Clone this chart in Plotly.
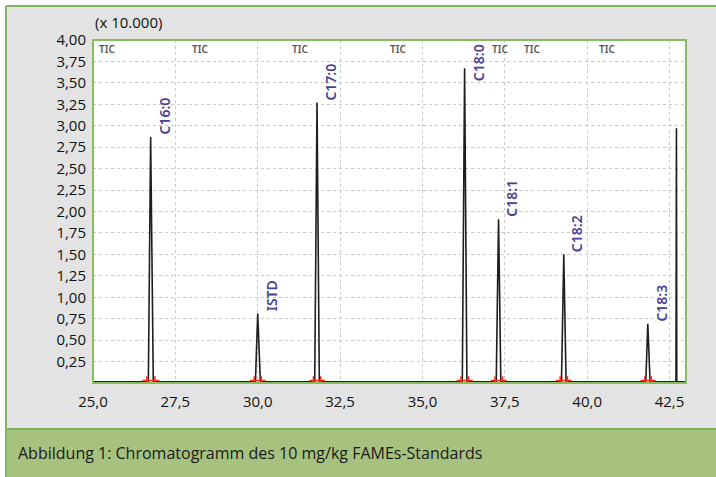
import plotly.graph_objects as go

# ---------------- data ----------------
peak_names = ["C16:0", "ISTD", "C17:0", "C18:0", "C18:1", "C18:2", "C18:3", ""]
peak_rt = [26.75, 30.00, 31.80, 36.28, 37.31, 39.29, 41.84, 42.71]
peak_height = [2.87, 0.81, 3.27, 3.67, 1.91, 1.50, 0.69, 2.97]
# foot of each peak (where the signal leaves / returns to the baseline)
peak_foot_left = [26.68, 29.93, 31.73, 36.21, 37.24, 39.22, 41.78, 42.695]
peak_foot_right = [26.83, 30.08, 31.87, 36.35, 37.38, 39.36, 41.91, 42.72]
# integration marks (red) at start / end of each integrated peak
int_start = [26.63, 29.89, 31.69, 36.17, 37.20, 39.18, 41.75, None]
int_end = [26.88, 30.11, 31.91, 36.40, 37.43, 39.40, 41.95, None]
baseline_level = 0.015
run_start, run_end = 25.0, 43.0

tic_positions = [25.12, 27.94, 30.98, 33.96, 37.05, 38.02, 40.30]
x_ticks = [25.0, 27.5, 30.0, 32.5, 35.0, 37.5, 40.0, 42.5]
y_ticks = [0.25, 0.50, 0.75, 1.00, 1.25, 1.50, 1.75, 2.00, 2.25, 2.50,
           2.75, 3.00, 3.25, 3.50, 3.75, 4.00]
caption = "Abbildung 1: Chromatogramm des 10 mg/kg FAMEs-Standards"
scale_note = "(x 10.000)"

# ---------------- layout constants (pixels) ----------------
W, H = 716, 477
L, R, T, B = 93, 686, 40, 383


def px(x):
    return (x - L) / (R - L)


def py(y):
    return (B - y) / (B - T)


# build the trace from the peak table
tx, ty = [run_start], [baseline_level]
for s, rt, h, e in zip(peak_foot_left, peak_rt, peak_height, peak_foot_right):
    tx += [s, rt, e]
    ty += [baseline_level, h, baseline_level]
tx.append(run_end)
ty.append(baseline_level)

fig = go.Figure()
fig.add_trace(go.Scatter(x=tx, y=ty, mode="lines",
                         line=dict(color="#1e1e1e", width=1.6),
                         hoverinfo="skip", showlegend=False))

mx, my = [], []
for s, e in zip(int_start, int_end):
    if s is not None:
        mx += [s, e]
        my += [0.03, 0.03]
fig.add_trace(go.Scatter(x=mx, y=my, mode="markers",
                         marker=dict(symbol="cross-thin", size=6, color="#ff2a1a",
                                     line=dict(color="#ff2a1a", width=1.5)),
                         hoverinfo="skip", showlegend=False))

label_font = dict(family="Noto Sans", size=14, color="#4b3f93", weight=600)
annotations = []
for name, rt, h in zip(peak_names, peak_rt, peak_height):
    if not name:
        continue
    if h > 3.5:
        annotations.append(dict(x=rt, y=3.97, xref="x", yref="y", text=name,
                                textangle=-90, showarrow=False, xanchor="left",
                                yanchor="top", xshift=2, font=label_font))
    else:
        annotations.append(dict(x=rt, y=h, xref="x", yref="y", text=name,
                                textangle=-90, showarrow=False, xanchor="left",
                                yanchor="bottom", xshift=2, font=label_font))

for tp in tic_positions:
    annotations.append(dict(x=tp, y=4.0, xref="x", yref="y", text="TIC",
                            showarrow=False, xanchor="left", yanchor="top", yshift=0,
                            font=dict(family="Noto Sans", size=10, color="#555555",
                                      weight=600)))

annotations.append(dict(x=px(93), y=py(22), xref="paper", yref="paper", text=scale_note,
                        showarrow=False, xanchor="left", yanchor="middle",
                        font=dict(family="Open Sans", size=15, color="#111111")))
annotations.append(dict(x=px(16), y=py(453), xref="paper", yref="paper", text=caption,
                        showarrow=False, xanchor="left", yanchor="middle",
                        font=dict(family="Open Sans", size=16, color="#1a1a1a")))

shapes = [
    # white margin outside the outer frame
    dict(type="rect", xref="paper", yref="paper", x0=px(0), x1=px(W), y0=py(0), y1=py(5),
         fillcolor="white", line=dict(width=0), layer="below"),
    dict(type="rect", xref="paper", yref="paper", x0=px(0), x1=px(5), y0=py(0), y1=py(H),
         fillcolor="white", line=dict(width=0), layer="below"),
    # caption band
    dict(type="rect", xref="paper", yref="paper", x0=px(6), x1=px(W), y0=py(429), y1=py(H),
         fillcolor="#a7c17f", line=dict(width=0), layer="below"),
    dict(type="line", xref="paper", yref="paper", x0=px(6), x1=px(W), y0=py(429), y1=py(429),
         line=dict(color="#7fb05a", width=2), layer="below"),
    # outer frame lines
    dict(type="line", xref="paper", yref="paper", x0=px(6), x1=px(W), y0=py(6), y1=py(6),
         line=dict(color="#7fb860", width=2), layer="below"),
    dict(type="line", xref="paper", yref="paper", x0=px(6), x1=px(6), y0=py(6), y1=py(H),
         line=dict(color="#7fb860", width=2), layer="below"),
    # plot frame
    dict(type="rect", xref="paper", yref="paper", x0=0, x1=1, y0=0, y1=1,
         line=dict(color="#86bd5f", width=2), layer="above"),
]

fig.update_layout(
    width=W, height=H,
    margin=dict(l=L, r=W - R, t=T, b=H - B, pad=0),
    paper_bgcolor="#e3e3e3",
    plot_bgcolor="white",
    separators=",.",
    showlegend=False,
    annotations=annotations,
    shapes=shapes,
    xaxis=dict(range=[run_start, run_end], tickvals=x_ticks, tickformat=".1f",
               showgrid=True, gridcolor="#c9c9c9", griddash="dot", gridwidth=1,
               zeroline=False, showline=False, ticks="", ticklabelstandoff=8,
               tickfont=dict(family="Open Sans", size=15, color="#111111")),
    yaxis=dict(range=[0, 4.0], tickvals=y_ticks, tickformat=".2f",
               showgrid=True, gridcolor="#c9c9c9", griddash="dot", gridwidth=1,
               zeroline=False, showline=False, ticks="", ticklabelstandoff=6,
               tickfont=dict(family="Open Sans", size=15, color="#111111")),
)

fig.write_html("out.html")
